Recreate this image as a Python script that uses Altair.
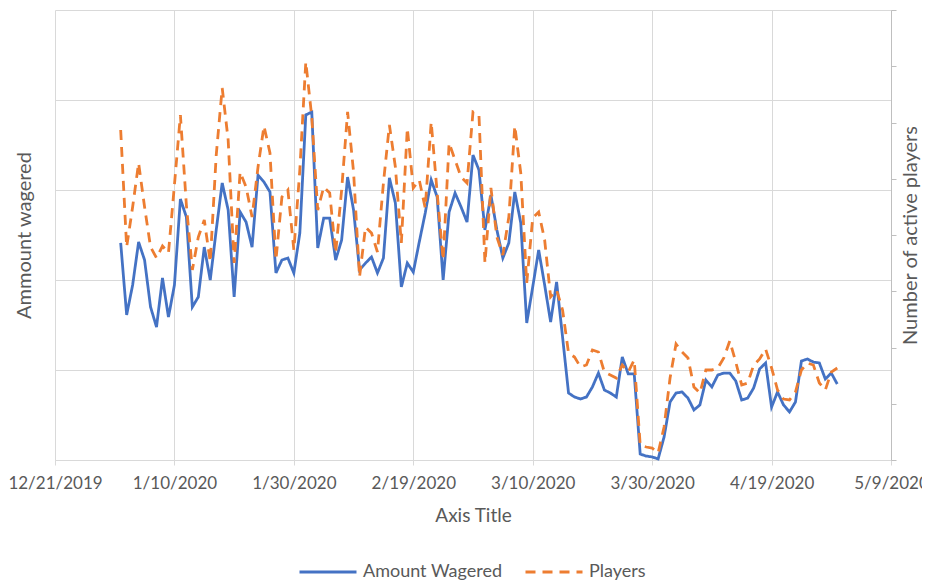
import altair as alt
import pandas as pd

# Daily dates (category axis)
dates = pd.date_range("2020-01-01", "2020-04-30", freq="D")

# Amount wagered (left axis units, 0-250)
wagered = [
    120.6, 80.6, 97.2, 121.1, 111.1, 85.0, 73.9, 101.1, 79.4, 97.2,
    145.0, 135.0, 85.0, 90.6, 118.3, 100.0, 127.8, 153.9, 138.9, 90.6,
    137.8, 132.2, 118.3, 158.3, 154.4, 148.9, 103.9, 111.1, 112.2, 103.9, 126.1,
    191.7, 193.3, 117.8, 134.4, 134.4, 111.1, 122.2, 157.2, 138.9, 105.6,
    109.4, 112.8, 103.9, 112.2, 156.7, 142.8, 96.1, 109.4, 104.4, 121.1,
    137.2, 155.6, 146.1, 100.0, 137.8, 148.3, 140.6, 132.2, 169.4,
    161.1, 127.8, 147.2, 127.8, 112.2, 120.6, 148.9, 131.7, 76.1, 96.1,
    116.7, 97.2, 76.7, 98.9, 68.3, 37.2, 35.0, 33.9, 35.0, 40.6,
    48.3, 38.9, 37.2, 35.0, 57.2, 47.8, 47.8, 3.3, 2.2, 1.7, 0.6,
    12.8, 32.2, 37.2, 37.8, 34.4, 27.8, 30.6, 44.4, 40.6, 47.2,
    48.3, 48.3, 43.9, 33.3, 34.4, 40.0, 50.6, 53.9, 29.4, 37.8,
    30.6, 26.7, 32.2, 55.0, 56.1, 54.4, 53.9, 45.0, 48.3, 42.2,
]

# Active players (right axis units, 0-800)
players = [
    586.7, 378.7, 449.8, 528.0, 449.8, 378.7, 359.1, 380.4, 368.0, 488.9,
    613.3, 453.3, 337.8, 396.4, 426.7, 352.0, 542.2, 661.3, 568.9, 350.2,
    512.0, 485.3, 432.0, 520.9, 593.8, 545.8, 355.6, 467.6, 480.0, 373.3, 515.6,
    707.6, 609.8, 444.4, 485.3, 474.7, 368.0, 480.0, 618.7, 512.0, 325.3,
    414.2, 403.6, 369.8, 492.4, 595.6, 520.9, 385.8, 590.2, 483.6, 497.8,
    448.0, 600.9, 474.7, 355.6, 563.6, 533.3, 503.1, 492.4, 618.7,
    613.3, 350.2, 483.6, 396.4, 364.4, 432.0, 593.8, 510.2, 314.7, 430.2,
    440.9, 391.1, 289.8, 302.2, 266.7, 190.2, 183.1, 165.3, 168.9, 195.6,
    192.0, 156.4, 151.1, 145.8, 168.9, 156.4, 177.8, 26.7, 23.1, 21.3, 12.4,
    58.7, 145.8, 206.2, 192.0, 181.3, 129.8, 119.1, 160.0, 160.0, 163.6,
    181.3, 211.6, 174.2, 133.3, 136.9, 168.9, 179.6, 197.3, 163.6, 124.4,
    108.4, 106.7, 120.9, 160.0, 172.4, 168.9, 136.9, 124.4, 156.4, 163.6,
]

series_names = ["Amount Wagered", "Players"]
series_colors = ["#4472C4", "#ED7D31"]
series_dashes = [[1, 0], [10, 7]]

tick_dates = [(2019, 12, 21), (2020, 1, 10), (2020, 1, 30), (2020, 2, 19),
              (2020, 3, 10), (2020, 3, 30), (2020, 4, 19), (2020, 5, 9)]
left_ticks = [0, 50, 100, 150, 200, 250]
right_ticks = [0, 100, 200, 300, 400, 500, 600, 700, 800]

df = pd.DataFrame({"date": dates, "wagered": wagered, "players": players})

TXT = "#595959"
GRID = "#d9d9d9"
FONT = "Lato"

dt_ticks = [alt.DateTime(year=y, month=m, date=d) for (y, m, d) in tick_dates]

x = alt.X(
    "date:T",
    scale=alt.Scale(domain=[dt_ticks[0], dt_ticks[-1]]),
    axis=alt.Axis(
        values=dt_ticks, format="%-m/%-d/%Y", title="Axis Title",
        grid=True, gridColor=GRID, domainColor=GRID, tickColor=GRID,
        tickSize=5, labelFontSize=17, labelColor=TXT, labelFont=FONT,
        labelFlush=False, labelOverlap=False, labelPadding=10,
        titleFontSize=19, titleColor=TXT, titleFont=FONT,
        titleFontWeight="normal", titlePadding=15,
    ),
)

legend_cfg = dict(
    title=None, orient="none", legendX=243, legendY=532,
    direction="horizontal", symbolType="stroke", symbolSize=3249,
    symbolStrokeWidth=3, labelFontSize=18, labelColor=TXT, labelFont=FONT,
    columnPadding=16, labelOffset=5, padding=0,
)

color = alt.Color("series:N",
                  scale=alt.Scale(domain=series_names, range=series_colors),
                  legend=alt.Legend(**legend_cfg))
dash = alt.StrokeDash("series:N",
                      scale=alt.Scale(domain=series_names, range=series_dashes),
                      legend=alt.Legend(**legend_cfg))

blue = alt.Chart(df).transform_calculate(series="'Amount Wagered'").mark_line(
    strokeWidth=2.8
).encode(
    x=x,
    y=alt.Y("wagered:Q",
            scale=alt.Scale(domain=[0, 250], nice=False),
            axis=alt.Axis(title="Ammount wagered", values=left_ticks,
                          labels=False, ticks=False, domain=False, grid=True,
                          gridColor=GRID, titleFontSize=20, titleColor=TXT,
                          titleFont=FONT, titleFontWeight="normal",
                          titlePadding=21)),
    color=color,
    strokeDash=dash,
)

orange = alt.Chart(df).transform_calculate(series="'Players'").mark_line(
    strokeWidth=2.8
).encode(
    x=x,
    y=alt.Y("players:Q",
            scale=alt.Scale(domain=[0, 800], nice=False),
            axis=alt.Axis(title="Number of active players", orient="right",
                          values=right_ticks, labels=False, ticks=True,
                          tickSize=5, tickColor="#bfbfbf", domain=True,
                          domainColor="#bfbfbf", grid=False,
                          titleAngle=270, titleFontSize=20, titleColor=TXT,
                          titleFont=FONT, titleFontWeight="normal",
                          titlePadding=24)),
    color=color,
    strokeDash=dash,
)

chart = alt.layer(blue, orange).resolve_scale(y="independent").properties(
    width=836, height=450,
    autosize=alt.AutoSizeParams(type="none"),
    padding={"left": 47, "top": 2, "right": 31, "bottom": 120},
).configure_view(stroke=None)

chart.save("out.html", embed_options={"renderer": "svg", "actions": False})
